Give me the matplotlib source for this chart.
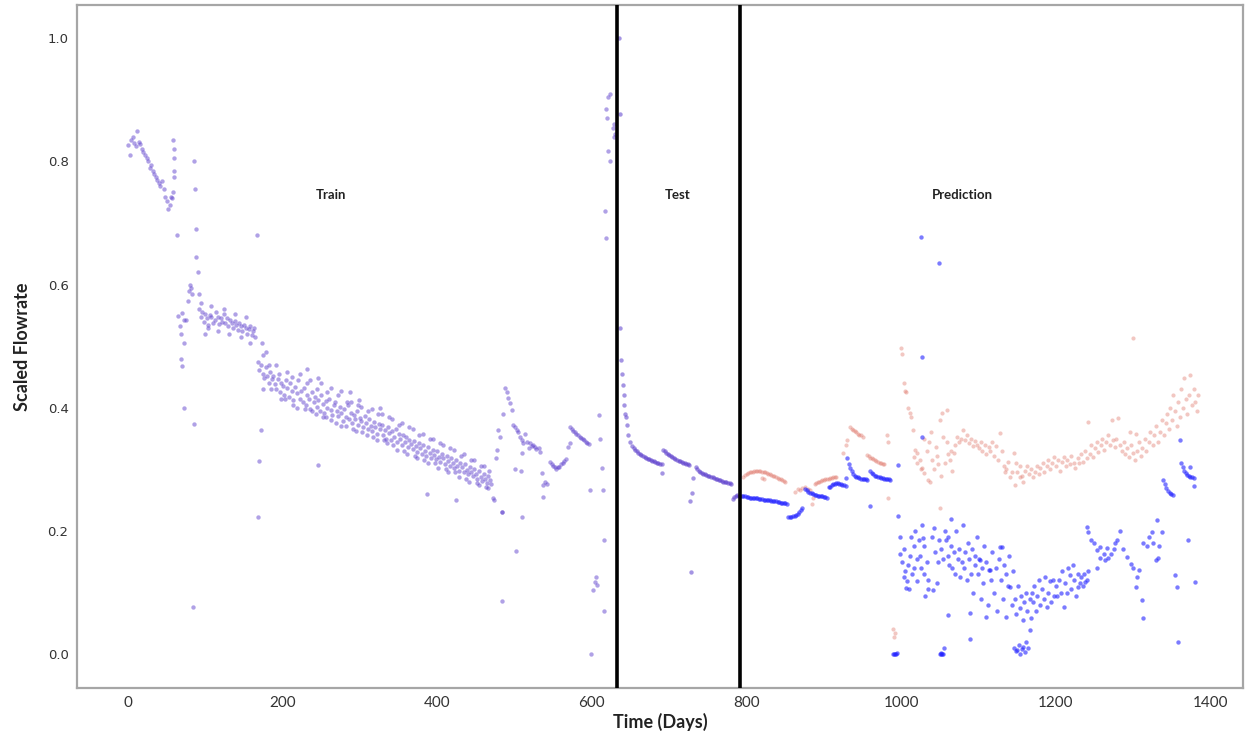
import numpy as np
import matplotlib
matplotlib.use("Agg")
import matplotlib.pyplot as plt

# ---------------- observed flowrate: training period ----------------
# regularly sampled runs: (first day, spacing in days, values)
train_early_start, train_early_step = 0, 2
train_early = [0.826, 0.810, 0.835, 0.840, 0.830, 0.825, 0.850, 0.832, 0.828, 0.820,
               0.815, 0.810, 0.805, 0.800, 0.790, 0.795, 0.785, 0.780, 0.775, 0.770,
               0.765, 0.760, 0.768, 0.755, 0.742, 0.735, 0.722, 0.730, 0.742, 0.750]

train_mid_start, train_mid_step = 92, 2
train_mid = [0.560, 0.548, 0.555, 0.540, 0.552, 0.545, 0.535, 0.550, 0.547, 0.538,
             0.542, 0.555, 0.548, 0.536, 0.545, 0.540, 0.552, 0.537, 0.546, 0.532,
             0.543, 0.538, 0.529, 0.541, 0.535, 0.527, 0.538, 0.532, 0.524, 0.535,
             0.530, 0.520, 0.528, 0.533, 0.518, 0.525, 0.515]

train_decline_start, train_decline_step = 168, 2
train_decline = [0.475, 0.462, 0.470, 0.455, 0.448, 0.466, 0.452, 0.441, 0.458, 0.447,
                 0.452, 0.438, 0.430, 0.447, 0.425, 0.441, 0.436, 0.420, 0.445, 0.432,
                 0.418, 0.440, 0.427, 0.412, 0.433, 0.424, 0.445, 0.415, 0.428, 0.410,
                 0.432, 0.405, 0.421, 0.414, 0.398, 0.425, 0.409, 0.418, 0.402, 0.413,
                 0.395, 0.420, 0.406, 0.392, 0.411, 0.400, 0.415, 0.397, 0.388, 0.405,
                 0.410, 0.394, 0.386, 0.402, 0.391, 0.379, 0.398, 0.385, 0.405, 0.382,
                 0.392, 0.376, 0.388, 0.381, 0.395, 0.372, 0.384, 0.378, 0.369, 0.387,
                 0.375, 0.366, 0.382, 0.371, 0.362, 0.377, 0.368, 0.358, 0.374, 0.365,
                 0.372, 0.356, 0.364, 0.350, 0.368, 0.359, 0.347, 0.362, 0.353, 0.366,
                 0.345, 0.358, 0.350, 0.340, 0.355, 0.344, 0.352, 0.336, 0.348, 0.341,
                 0.333, 0.346, 0.338, 0.328, 0.343, 0.335, 0.325, 0.339, 0.330, 0.322,
                 0.337, 0.326, 0.318, 0.332, 0.323, 0.316, 0.329, 0.320, 0.312, 0.325,
                 0.318, 0.309, 0.322, 0.313, 0.305, 0.319, 0.310, 0.302, 0.315, 0.306,
                 0.298, 0.311, 0.303, 0.295, 0.308, 0.299, 0.292, 0.304, 0.296, 0.289,
                 0.301, 0.292, 0.285, 0.297, 0.288, 0.281, 0.293, 0.284, 0.278, 0.290,
                 0.282, 0.276]

train_dip_start, train_dip_step = 546, 2
train_dip = [0.312, 0.309, 0.306, 0.303, 0.301, 0.304, 0.303, 0.308, 0.310, 0.313, 0.316]

train_late_start, train_late_step = 572, 2
train_late = [0.368, 0.365, 0.362, 0.360, 0.357, 0.355, 0.353, 0.351, 0.349, 0.347,
              0.345, 0.343, 0.341]

# irregular training observations
train_day = [58, 59, 59, 60, 60, 57, 64, 65, 67, 68, 69, 70, 72, 73, 70, 72, 75, 78, 79, 80,
             81, 83, 84, 85, 86, 87, 88, 88, 90, 92, 100, 167, 168, 170, 172, 173, 174,
             175, 182, 195, 203, 212, 219, 231, 238, 244, 252, 257, 263, 271, 276, 283,
             291, 297, 303, 311, 317, 323, 331, 337, 343, 351, 357, 363, 371, 377, 383,
             391, 397, 403, 411, 417, 423, 431, 437, 443, 451, 457, 463, 467,
             231, 246, 287, 299, 326, 246, 387, 424, 473, 484,
             472, 476, 477, 479, 481, 485, 488, 490, 492, 494, 496, 498, 500, 503, 505,
             507, 509, 511, 514, 516, 518, 520, 522, 524, 526, 528, 531, 533,
             501, 508, 510, 484, 510, 502, 484, 535, 537, 542, 537, 539, 569, 571,
             598, 599, 601, 604, 606, 605, 609, 611, 613, 614, 615, 616,
             617, 618, 621, 623, 618, 620, 627, 629, 621, 624, 628, 630,
             95, 103, 108, 117, 124, 131, 138, 146, 152, 158, 163,
             178, 185, 192, 198, 206, 214, 222, 229, 236, 243, 249, 256, 262, 269, 275,
             282, 289, 295, 302, 309, 315, 322, 329, 335, 341, 348, 355, 361, 368, 374,
             381, 388, 394, 401, 408, 414, 421, 428, 434, 441, 448, 454, 461, 466]
train_val = [0.835, 0.820, 0.805, 0.785, 0.775, 0.740, 0.680, 0.549, 0.532, 0.520, 0.479,
             0.468, 0.400, 0.505, 0.554, 0.542, 0.542, 0.573, 0.590, 0.600, 0.595, 0.585,
             0.076, 0.373, 0.800, 0.755, 0.690, 0.645, 0.620, 0.585, 0.520, 0.680, 0.222,
             0.313, 0.364, 0.505, 0.485, 0.430, 0.470, 0.455, 0.415, 0.450, 0.400, 0.440,
             0.395, 0.430, 0.385, 0.425, 0.380, 0.420, 0.370, 0.410, 0.365, 0.405, 0.360,
             0.395, 0.352, 0.390, 0.348, 0.385, 0.340, 0.372, 0.330, 0.368, 0.322, 0.355,
             0.315, 0.350, 0.310, 0.342, 0.300, 0.335, 0.295, 0.322, 0.285, 0.315, 0.278,
             0.305, 0.272, 0.298,
             0.463, 0.448, 0.425, 0.412, 0.400, 0.307, 0.260, 0.250, 0.250, 0.230,
             0.253, 0.318, 0.331, 0.364, 0.352, 0.390, 0.432, 0.425, 0.416, 0.408, 0.396,
             0.372, 0.368, 0.364, 0.360, 0.352, 0.348, 0.342, 0.358, 0.345, 0.334, 0.342,
             0.338, 0.339, 0.336, 0.333, 0.334, 0.328,
             0.300, 0.297, 0.326, 0.230, 0.222, 0.167, 0.086, 0.294, 0.274, 0.276, 0.255,
             0.280, 0.337, 0.342,
             0.266, 0.000, 0.104, 0.117, 0.112, 0.125, 0.388, 0.350, 0.302, 0.266, 0.186,
             0.070,
             0.720, 0.675, 0.905, 0.910, 0.885, 0.870, 0.855, 0.840, 0.817, 0.800, 0.860,
             0.845,
             0.570, 0.530, 0.565, 0.525, 0.560, 0.520, 0.553, 0.515, 0.548, 0.505, 0.530,
             0.490, 0.430, 0.470, 0.415, 0.458, 0.405, 0.455, 0.398, 0.445, 0.390, 0.440,
             0.385, 0.432, 0.375, 0.428, 0.370, 0.410, 0.362, 0.402, 0.355, 0.398, 0.348,
             0.390, 0.342, 0.382, 0.332, 0.376, 0.325, 0.366, 0.318, 0.358, 0.310, 0.350,
             0.302, 0.340, 0.296, 0.332, 0.288, 0.325, 0.280, 0.315, 0.275, 0.305, 0.270]

# ---------------- observed flowrate: test period ----------------
test_r1_start, test_r1_step = 652, 2
test_r1 = [0.338, 0.335, 0.332, 0.329, 0.327, 0.325, 0.323, 0.321, 0.320, 0.318,
           0.317, 0.316, 0.315, 0.314, 0.313, 0.312, 0.311, 0.310, 0.309, 0.308]
test_r2_start, test_r2_step = 692, 2
test_r2 = [0.331, 0.329, 0.327, 0.325, 0.323, 0.321, 0.320, 0.318, 0.317, 0.315,
           0.314, 0.313, 0.312, 0.311, 0.310, 0.309, 0.308, 0.307]
test_r3_start, test_r3_step = 734, 2
test_r3 = [0.303, 0.300, 0.298, 0.296, 0.294, 0.293, 0.292, 0.291, 0.290, 0.289,
           0.288, 0.287, 0.286, 0.285, 0.284, 0.283, 0.282, 0.281, 0.280, 0.280,
           0.279, 0.278, 0.278, 0.277]
test_r4_start, test_r4_step = 782, 2
test_r4 = [0.252, 0.255, 0.257, 0.258, 0.257, 0.256]

test_day = [635, 636, 636, 638, 639, 640, 641, 642, 643, 644, 645, 647, 649,
            691, 731, 730, 727, 728]
test_val = [1.000, 0.877, 0.530, 0.477, 0.455, 0.437, 0.420, 0.404, 0.390, 0.385,
            0.372, 0.356, 0.344, 0.294, 0.286, 0.261, 0.248, 0.133]

# ---------------- predicted flowrate, model A (blue) ----------------
model_a_runs = [
    (794, 2, [0.257, 0.256, 0.256, 0.255, 0.255, 0.254, 0.254, 0.254, 0.253, 0.253,
              0.253, 0.252, 0.252, 0.252, 0.251, 0.251, 0.250, 0.250, 0.250, 0.249,
              0.249, 0.248, 0.248, 0.247, 0.247, 0.246, 0.246, 0.245, 0.245, 0.244]),
    (854, 2, [0.222, 0.222, 0.223, 0.224, 0.225, 0.226, 0.228, 0.231, 0.234, 0.238]),
    (876, 2, [0.268, 0.266, 0.264, 0.262, 0.261, 0.260, 0.259, 0.258, 0.257, 0.257,
              0.256, 0.256, 0.255, 0.255, 0.254]),
    (906, 2, [0.271, 0.272, 0.274, 0.276, 0.277, 0.278, 0.278, 0.277, 0.276, 0.275,
              0.274, 0.273]),
    (930, 2, [0.318, 0.309, 0.302, 0.297, 0.293, 0.290, 0.288, 0.287, 0.286, 0.285,
              0.285, 0.284, 0.284, 0.283]),
    (960, 2, [0.297, 0.294, 0.292, 0.290, 0.289, 0.288, 0.287, 0.286, 0.286, 0.285,
              0.285, 0.284, 0.284, 0.283]),
    (1339, 2, [0.282, 0.276, 0.270, 0.265, 0.262, 0.260, 0.258]),
    (1362, 2, [0.310, 0.304, 0.298, 0.294, 0.291, 0.289, 0.288, 0.287, 0.286]),
]
model_a_day = [928, 959, 996, 996, 1027, 1028, 1026, 1049, 1027,
               990, 991, 992, 993, 994,
               998, 999, 1001, 1003, 1004, 1005, 1006, 1008, 1009, 1010, 1011, 1013,
               1014, 1016, 1017, 1018, 1020, 1021, 1023, 1024, 1025, 1027, 1029, 1030,
               1031, 1033, 1034, 1035, 1040, 1041, 1042, 1044, 1046, 1047, 1049,
               1050, 1051, 1052, 1053, 1054, 1055, 1052, 1054, 1056, 1058, 1060, 1061,
               1060, 1062, 1064, 1065, 1066, 1068, 1070, 1071, 1073, 1075, 1076, 1078,
               1080, 1081, 1083, 1085, 1086, 1088, 1089, 1089, 1090, 1092, 1093, 1095,
               1096, 1098, 1099, 1101, 1102, 1103, 1104, 1106, 1107, 1109,
               1110, 1112, 1114, 1115, 1116, 1118, 1120, 1122, 1124, 1126, 1128, 1129,
               1130, 1131, 1133, 1135, 1136, 1138, 1140, 1141, 1143, 1144,
               1146, 1148, 1150, 1152, 1154, 1156, 1158, 1160, 1162, 1164, 1167, 1168,
               1147, 1149, 1151, 1153, 1155, 1157, 1159, 1161, 1163, 1166, 1169,
               1170, 1172, 1174, 1176, 1178, 1180, 1182, 1184, 1186, 1188, 1190, 1192,
               1194, 1196, 1198, 1200, 1202, 1204, 1206, 1208, 1210, 1212, 1214, 1216,
               1218, 1220, 1222, 1224, 1226, 1228, 1229, 1231, 1233, 1235, 1237, 1238,
               1240, 1242, 1240, 1241, 1245, 1249, 1253, 1257, 1262, 1266, 1271, 1275,
               1277, 1279, 1283, 1253, 1257, 1264, 1268, 1287, 1292, 1297, 1300, 1305,
               1304, 1307, 1312, 1313, 1313, 1318, 1320, 1324, 1326, 1329, 1331, 1332,
               1334, 1337, 1354, 1356, 1358, 1361, 1371, 1373, 1379, 1380]
model_a_val = [0.286, 0.240, 0.225, 0.307, 0.352, 0.188, 0.677, 0.635, 0.482,
               0.000, 0.000, 0.000, 0.000, 0.002,
               0.190, 0.163, 0.150, 0.125, 0.170, 0.135, 0.108, 0.118, 0.145, 0.105,
               0.160, 0.190, 0.130, 0.175, 0.140, 0.200, 0.155, 0.118, 0.185, 0.160,
               0.140, 0.210, 0.130, 0.175, 0.095, 0.150, 0.105, 0.120, 0.190, 0.104,
               0.205, 0.165, 0.115, 0.150, 0.185,
               0.000, 0.000, 0.002, 0.000, 0.000, 0.010, 0.170, 0.155, 0.200, 0.185,
               0.160, 0.190, 0.063, 0.145, 0.175, 0.220, 0.140, 0.165, 0.130, 0.200,
               0.155, 0.170, 0.125, 0.150, 0.210, 0.140, 0.165, 0.120, 0.180, 0.155,
               0.025, 0.066, 0.130, 0.170, 0.100, 0.145, 0.160, 0.190, 0.130, 0.155,
               0.153, 0.090, 0.140, 0.115, 0.175, 0.060,
               0.150, 0.080, 0.136, 0.136, 0.120, 0.165, 0.100, 0.140, 0.070, 0.155,
               0.174, 0.120, 0.174, 0.090, 0.145, 0.060, 0.130, 0.110, 0.160, 0.109,
               0.080, 0.135,
               0.010, 0.005, 0.006, 0.015, 0.000, 0.008, 0.012, 0.004, 0.020, 0.010,
               0.039, 0.058, 0.090, 0.065, 0.110, 0.075, 0.095, 0.055, 0.085, 0.100,
               0.070, 0.090, 0.100,
               0.085, 0.110, 0.070, 0.095, 0.120, 0.080, 0.105, 0.090, 0.125, 0.076,
               0.100, 0.118, 0.085, 0.120, 0.095, 0.110, 0.095, 0.120, 0.100, 0.135,
               0.076, 0.115, 0.100, 0.140, 0.128, 0.105, 0.145, 0.120, 0.095, 0.130,
               0.109, 0.115, 0.125, 0.110, 0.130, 0.117, 0.120, 0.135, 0.206, 0.198,
               0.185, 0.180, 0.169, 0.174, 0.163, 0.172, 0.163, 0.170, 0.180, 0.185,
               0.200, 0.140, 0.156, 0.153, 0.156, 0.170, 0.158, 0.147, 0.139, 0.125,
               0.109, 0.136, 0.088, 0.058, 0.180, 0.176, 0.190, 0.198, 0.180, 0.153,
               0.217, 0.156, 0.176, 0.198, 0.128, 0.109, 0.020, 0.347, 0.185, 0.303,
               0.273, 0.117]

# ---------------- predicted flowrate, model B (red) ----------------
model_b_runs = [
    (796, 2, [0.288, 0.291, 0.293, 0.294, 0.295, 0.296, 0.296, 0.297, 0.297, 0.297,
              0.297, 0.297, 0.296, 0.296, 0.295, 0.294, 0.293, 0.292, 0.291, 0.290,
              0.289, 0.288, 0.286, 0.285, 0.284, 0.282, 0.281, 0.279]),
    (888, 2, [0.277, 0.278, 0.279, 0.280, 0.281, 0.282, 0.283, 0.284, 0.285, 0.285,
              0.286, 0.286, 0.287, 0.287, 0.288]),
    (934, 2, [0.369, 0.366, 0.364, 0.362, 0.360, 0.358, 0.356, 0.355, 0.353]),
    (956, 2, [0.323, 0.321, 0.319, 0.318, 0.316, 0.315, 0.313, 0.312, 0.311, 0.310,
              0.309, 0.308]),
]
model_b_day = [820, 823, 863, 866, 869, 872, 876, 879, 882, 885, 886, 925, 928, 930,
               982, 983, 983, 990, 991, 992,
               1000, 1001, 1003, 1005, 1006, 1009, 1011, 1013, 1015, 1018, 1021, 1024,
               1027, 1030, 1034, 1037, 1016, 1020, 1026, 1030, 1033, 1036, 1039,
               1040, 1043, 1045, 1046, 1048, 1050, 1050, 1052, 1053, 1054, 1057, 1059,
               1059, 1061, 1063, 1065, 1066, 1068, 1070, 1072, 1075, 1077, 1080, 1082,
               1085, 1088, 1090, 1093, 1095, 1098, 1100, 1103, 1105, 1108, 1110, 1113,
               1115, 1118, 1120, 1123, 1125, 1128, 1130, 1133, 1134, 1136, 1138, 1141,
               1143, 1146, 1147, 1148, 1150, 1153, 1154, 1156, 1158,
               1160, 1163, 1165, 1168, 1170, 1173, 1175, 1178, 1180, 1183, 1185, 1188,
               1190, 1193, 1195, 1198, 1200, 1203, 1205, 1208, 1210, 1213, 1215, 1218,
               1220, 1223, 1225, 1228, 1230, 1233, 1235, 1238, 1240, 1242, 1244, 1246,
               1248, 1250, 1253, 1255, 1258, 1260, 1262, 1265, 1267, 1270, 1272, 1274,
               1276, 1278, 1280, 1283, 1285, 1288, 1290, 1292, 1295, 1296, 1297, 1300,
               1300, 1302, 1303, 1305, 1307, 1310, 1312, 1315, 1317, 1320, 1322, 1325,
               1327, 1330, 1332, 1335, 1337, 1340, 1342, 1344, 1346, 1348, 1350, 1352,
               1354, 1356, 1358, 1360, 1362, 1364, 1366, 1368, 1370, 1372, 1374, 1376,
               1378, 1380, 1382, 1384]
model_b_val = [0.286, 0.284, 0.263, 0.268, 0.266, 0.270, 0.271, 0.268, 0.266, 0.243,
               0.253, 0.326, 0.340, 0.347, 0.355, 0.344, 0.253, 0.040, 0.028, 0.035,
               0.497, 0.488, 0.440, 0.428, 0.425, 0.400, 0.392, 0.385, 0.364, 0.331,
               0.326, 0.315, 0.302, 0.294, 0.282, 0.279, 0.320, 0.310, 0.300, 0.350,
               0.330, 0.345, 0.360,
               0.315, 0.300, 0.336, 0.322, 0.308, 0.380, 0.237, 0.290, 0.391, 0.352,
               0.310, 0.396, 0.344, 0.325, 0.315, 0.330, 0.298, 0.326, 0.340, 0.352,
               0.345, 0.350, 0.364, 0.348, 0.355, 0.342, 0.350, 0.338, 0.346, 0.340,
               0.335, 0.344, 0.330, 0.340, 0.325, 0.336, 0.330, 0.345, 0.322, 0.338,
               0.315, 0.359, 0.330, 0.305, 0.295, 0.300, 0.312, 0.288, 0.295, 0.326,
               0.274, 0.310, 0.295, 0.305, 0.288, 0.290, 0.280,
               0.298, 0.305, 0.292, 0.300, 0.288, 0.296, 0.305, 0.292, 0.302, 0.310,
               0.295, 0.305, 0.315, 0.300, 0.310, 0.320, 0.305, 0.315, 0.298, 0.312,
               0.320, 0.305, 0.315, 0.308, 0.322, 0.310, 0.302, 0.318, 0.310, 0.325,
               0.312, 0.330, 0.318, 0.377, 0.325, 0.340, 0.320, 0.335, 0.345, 0.328,
               0.340, 0.350, 0.332, 0.345, 0.355, 0.340, 0.380, 0.348, 0.336, 0.350,
               0.383, 0.340, 0.330, 0.345, 0.325, 0.335, 0.320, 0.360, 0.340, 0.326,
               0.514, 0.315, 0.358, 0.330, 0.345, 0.322, 0.335, 0.350, 0.330, 0.345,
               0.360, 0.340, 0.355, 0.370, 0.345, 0.360, 0.380, 0.355, 0.375, 0.390,
               0.365, 0.400, 0.380, 0.420, 0.395, 0.370, 0.410, 0.385, 0.430, 0.400,
               0.448, 0.415, 0.390, 0.420, 0.453, 0.405, 0.430, 0.410, 0.395, 0.420]

# period boundaries and region captions
split_days = [633, 792]
captions = ["Train", "Test", "Prediction"]
caption_days = [263, 711, 1079]
caption_level = 0.745


def run(start, step, values):
    return start + step * np.arange(len(values)), np.asarray(values, dtype=float)


def stack(runs, extra_days, extra_vals):
    days = [run(*r)[0] for r in runs] + [np.asarray(extra_days, dtype=float)]
    vals = [run(*r)[1] for r in runs] + [np.asarray(extra_vals, dtype=float)]
    return np.concatenate(days), np.concatenate(vals)


train_x, train_y = stack([(train_early_start, train_early_step, train_early),
                          (train_mid_start, train_mid_step, train_mid),
                          (train_decline_start, train_decline_step, train_decline),
                          (train_dip_start, train_dip_step, train_dip),
                          (train_late_start, train_late_step, train_late)],
                         train_day, train_val)
test_x, test_y = stack([(test_r1_start, test_r1_step, test_r1),
                        (test_r2_start, test_r2_step, test_r2),
                        (test_r3_start, test_r3_step, test_r3),
                        (test_r4_start, test_r4_step, test_r4)],
                       test_day, test_val)
a_x, a_y = stack(model_a_runs, model_a_day, model_a_val)
b_x, b_y = stack(model_b_runs, model_b_day, model_b_val)

label_font = ["Lato", "DejaVu Sans"]

fig = plt.figure(figsize=(12.47, 7.38), dpi=100)
ax = fig.add_axes([0.0617, 0.0678, 0.9351, 0.9254])

purple = "#5a3ccc"
ax.scatter(b_x, b_y, s=9, color="#e07a6e", alpha=0.42, linewidths=0, zorder=2)
ax.scatter(a_x, a_y, s=10, color="#2323ff", alpha=0.6, linewidths=0, zorder=3)
ax.scatter(train_x, train_y, s=10, color=purple, alpha=0.48, linewidths=0, zorder=3)
ax.scatter(test_x, test_y, s=10, color=purple, alpha=0.55, linewidths=0, zorder=3)

for d in split_days:
    ax.axvline(d, color="black", linewidth=2.6, zorder=4)

for text, d in zip(captions, caption_days):
    ax.text(d, caption_level, text, ha="center", va="center", fontsize=9.5,
            fontweight="bold", color="#222222", family=label_font)

ax.set_xlim(-66, 1442)
ax.set_ylim(-0.055, 1.054)
ax.set_xticks([0, 200, 400, 600, 800, 1000, 1200, 1400])
ax.set_yticks([0.0, 0.2, 0.4, 0.6, 0.8, 1.0])
ax.set_yticklabels(["0.0", "0.2", "0.4", "0.6", "0.8", "1.0"])
ax.tick_params(length=0, pad=6, colors="#333333")
for lbl in ax.get_yticklabels():
    lbl.set_fontsize(9.5)
for lbl in ax.get_xticklabels():
    lbl.set_fontfamily(label_font)
    lbl.set_fontsize(11)

for sp in ax.spines.values():
    sp.set_color("#a6a6a6")
    sp.set_linewidth(1.6)

ax.set_xlabel("Time (Days)", fontsize=13, fontweight="bold", family=label_font,
              labelpad=2, color="#222222")
ax.set_ylabel("Scaled Flowrate", fontsize=13, fontweight="bold", family=label_font,
              labelpad=12, color="#222222")

fig.savefig("out.png", dpi=100)
